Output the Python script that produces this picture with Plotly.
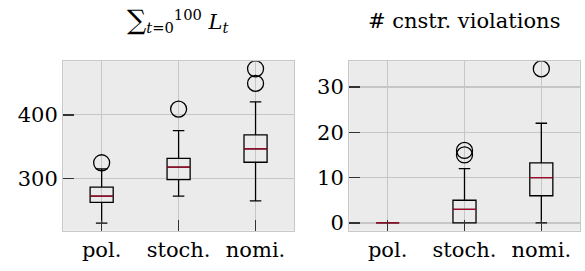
import plotly.graph_objects as go

cats = ["pol.", "stoch.", "nomi."]

# Left panel: sum of L_t
cost_lo = [229.5, 272, 264.5]
cost_q1 = [262, 298, 325.3]
cost_med = [272, 317.5, 346.5]
cost_q3 = [286, 331.5, 368.5]
cost_hi = [315, 375, 420.5]
cost_out_x = ["pol.", "stoch.", "nomi.", "nomi."]
cost_out_y = [324.5, 409, 449.5, 472.5]

# Right panel: number of constraint violations
viol_lo = [0, 0, 0]
viol_q1 = [0, 0, 6]
viol_med = [0, 3, 10]
viol_q3 = [0, 5, 13.25]
viol_hi = [0, 12, 22]
viol_out_x = ["stoch.", "stoch.", "nomi."]
viol_out_y = [15, 16, 34]

FONT = "DejaVu Serif"
BG = "#ebebeb"
GRID = "#c6c6c6"
MED = "#A60628"

fig = go.Figure()

def add_panel(xa, ya, lo, q1, med, q3, hi, ox, oy):
    fig.add_trace(go.Box(
        x=cats, q1=q1, median=med, q3=q3, lowerfence=lo, upperfence=hi,
        xaxis=xa, yaxis=ya, width=0.3, whiskerwidth=0.5,
        line=dict(color="black", width=1.3), fillcolor="rgba(0,0,0,0)",
        boxpoints=False, showlegend=False, hoverinfo="skip"))
    fig.add_trace(go.Box(
        x=cats, q1=med, median=med, q3=med, lowerfence=med, upperfence=med,
        xaxis=xa, yaxis=ya, width=0.3, whiskerwidth=0,
        line=dict(color=MED, width=1.2), fillcolor="rgba(0,0,0,0)",
        boxpoints=False, showlegend=False, hoverinfo="skip"))
    fig.add_trace(go.Scatter(
        x=ox, y=oy, xaxis=xa, yaxis=ya, mode="markers",
        marker=dict(symbol="circle-open", size=16, color="black",
                    line=dict(width=1.3, color="black")),
        showlegend=False, hoverinfo="skip"))

add_panel("x", "y", cost_lo, cost_q1, cost_med, cost_q3, cost_hi, cost_out_x, cost_out_y)
add_panel("x2", "y2", viol_lo, viol_q1, viol_med, viol_q3, viol_hi, viol_out_x, viol_out_y)

axis_common = dict(
    showgrid=True, gridcolor=GRID, gridwidth=1.3, zeroline=False,
    showline=True, linecolor="#c8c8c8", linewidth=1.2, mirror=True,
    ticks="inside", ticklen=11, tickwidth=1.6, tickcolor="#333333",
    tickfont=dict(family=FONT, size=21, color="black"),
)

fig.update_layout(
    width=585, height=271,
    margin=dict(l=0, r=0, t=0, b=0),
    paper_bgcolor="white", plot_bgcolor=BG,
    xaxis=dict(domain=[0.108, 0.5026], type="category", categoryorder="array",
               categoryarray=cats, range=[-0.5, 2.5], anchor="y", **axis_common),
    yaxis=dict(domain=[0.133, 0.770], range=[217.6, 484.5], tickvals=[300, 400],
               anchor="x", **axis_common),
    xaxis2=dict(domain=[0.597, 0.991], type="category", categoryorder="array",
                categoryarray=cats, range=[-0.5, 2.5], anchor="y2", **axis_common),
    yaxis2=dict(domain=[0.133, 0.770], range=[-1.7, 35.7], tickvals=[0, 10, 20, 30],
                anchor="x2", **axis_common),
    boxmode="overlay",
    annotations=[
        dict(text="<span style='font-size:27px'>∑</span><sub><i>t</i>=0</sub><sup>100</sup> <i>L</i><sub><i>t</i></sub>",
             xref="paper", yref="paper", x=0.305, y=0.925, showarrow=False,
             xanchor="center", yanchor="middle",
             font=dict(family=FONT, size=21, color="black")),
        dict(text="# cnstr. violations",
             xref="paper", yref="paper", x=0.794, y=0.92, showarrow=False,
             xanchor="center", yanchor="middle",
             font=dict(family=FONT, size=21, color="black")),
    ],
)

fig.write_html("out.html",
               config={"displayModeBar": False, "staticPlot": True},
               post_script="document.body.style.margin='0';document.body.style.overflow='hidden';")
